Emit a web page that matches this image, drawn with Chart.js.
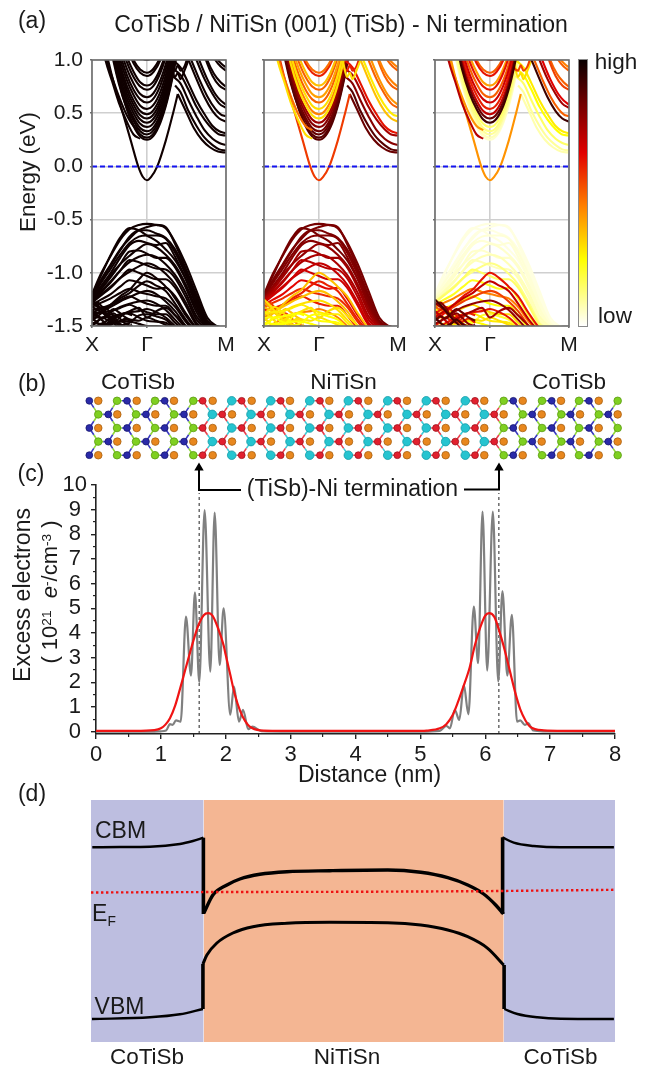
<!DOCTYPE html>
<html><head><meta charset="utf-8">
<script src="https://cdn.jsdelivr.net/npm/chart.js@4"></script>
<style>
html,body{margin:0;padding:0;background:#fff;width:651px;height:1070px;overflow:hidden;font-family:"Liberation Sans",Arial,sans-serif;color:#1a1a1a}
canvas{position:absolute}
.t{position:absolute;white-space:nowrap;line-height:1;transform:translate(-50%,-50%)}
.t sup{font-size:62%;vertical-align:baseline;position:relative;top:-.42em}
.t sub{font-size:60%;vertical-align:baseline;position:relative;top:.35em}
</style></head><body>
<script>
/* ---------- (a) band structure ---------- */
const kTicks=[0,0.41,1], kLabels=['X','Γ','M'];
const eTicks=[-1.5,-1,-0.5,0,0.5,1];
const fermiK=[0,1], fermiE=[0,0];
const kBowl=[.12,.16,.2,.26,.31,.36,.41,.46,.51,.56,.6,.64];
const bowls=[
[1.30,1.03,.80,.54,.38,.28,.25,.29,.41,.61,.83,1.10],
[1.25,.99,.78,.54,.39,.30,.27,.31,.43,.63,.85,1.12],
[1.30,1.03,.81,.57,.43,.33,.30,.34,.46,.66,.88,1.15],
[1.35,1.08,.85,.60,.46,.36,.33,.37,.49,.69,.91,1.18],
[1.38,1.12,.88,.64,.50,.40,.37,.41,.53,.73,.95,1.22],
[1.42,1.15,.92,.68,.54,.44,.41,.45,.57,.77,.99,1.26],
[1.45,1.20,.96,.72,.58,.48,.45,.49,.61,.81,1.03,1.3],
[1.5,1.24,1.0,.76,.62,.52,.49,.53,.65,.85,1.07,1.34],
[1.55,1.28,1.05,.81,.67,.57,.54,.58,.70,.90,1.12,1.4],
[1.6,1.32,1.10,.86,.72,.63,.60,.64,.76,.95,1.18,1.45],
[1.65,1.38,1.15,.92,.78,.68,.65,.69,.81,1.0,1.2,1.5],
[1.7,1.42,1.2,.98,.84,.75,.72,.76,.88,1.07,1.3,1.55],
[1.75,1.5,1.25,1.03,.89,.79,.76,.8,.92,1.11,1.35,1.6],
[1.8,1.55,1.3,1.12,.97,.88,.85,.89,1.0,1.2,1.4,1.65],
[1.85,1.6,1.32,1.15,1.0,.91,.88,.92,1.03,1.22,1.45,1.7],
[1.9,1.65,1.4,1.27,1.12,1.03,1.0,1.04,1.15,1.3,1.5,1.75]];
const kLow=[.06,.12,.17,.23,.29,.345,.38,.41,.44,.487,.55,.605,.64];
const eLow=[1.35,1.0,.75,.5,.24,0,-.1,-.13,-.1,0,.24,.5,.68];
const kSide=[.04,.1,.15,.2,.26,.31,.36];
const sideBands=[[1.35,1.0,.8,.6,.42,.3,.26],[1.3,1.04,.84,.66,.48,.38,.34]];
const peakBands=[
{k:[.64,.7,.76,.82,.88,.94,1],e:[.68,.52,.36,.25,.18,.14,.13]},
{k:[.62,.66,.72,.78,.84,.9,.95,1],e:[.76,.70,.52,.38,.27,.2,.16,.15]},
{k:[.6,.66,.72,.78,.84,.9,.95,1],e:[.85,.78,.62,.47,.34,.26,.22,.2]},
{k:[.6,.66,.72,.78,.84,.9,.95,1],e:[.92,.86,.72,.56,.44,.35,.3,.29]},
{k:[.6,.66,.72,.78,.84,.9,.95,1],e:[1.,.93,.78,.62,.49,.38,.33,.31]},
{k:[.66,.72,.78,.84,.9,.95,1],e:[1.15,1.0,.82,.65,.52,.45,.42]},
{k:[.68,.74,.8,.86,.92,.96,1],e:[1.15,1,.82,.66,.54,.49,.47]},
{k:[.72,.78,.84,.9,.95,1],e:[1.2,1.0,.82,.68,.59,.55]},
{k:[.74,.8,.86,.92,.96,1],e:[1.2,1.0,.82,.68,.62,.58]},
{k:[.8,.85,.9,.95,1],e:[1.2,1.0,.85,.76,.72]},
{k:[.81,.86,.91,.96,1],e:[1.2,1.0,.87,.79,.75]},
{k:[.88,.92,.96,1],e:[1.1,1.0,.94,.9]},
{k:[.9,.94,.97,1],e:[1.1,1.0,.96,.93]}];
const wiggleK=[.56,.59,.62,.64,.66,.69,.72];
const wiggles=[[1.05,.93,.9,.95,.9,.94,1.05],[1.1,.98,.84,.88,.82,.9,1.0]];
const kVal=[0,.07,.14,.21,.28,.35,.41,.48,.55,.62,.7,.78,.86,.93,1];
const valence=[
[-1.20,-1.00,-.84,-.69,-.59,-.55,-.54,-.55,-.58,-.71,-.92,-1.17,-1.42,-1.50,-1.52],
[-1.21,-1.02,-.83,-.67,-.58,-.60,-.65,-.70,-.78,-.88,-1.06,-1.28,-1.46,-1.51,-1.53],
[-1.22,-1.06,-.92,-.78,-.68,-.60,-.57,-.55,-.57,-.73,-.96,-1.21,-1.45,-1.50,-1.52],
[-1.22,-1.07,-.93,-.79,-.66,-.60,-.60,-.63,-.67,-.78,-.99,-1.24,-1.46,-1.51,-1.53],
[-1.23,-1.09,-.96,-.83,-.72,-.66,-.65,-.65,-.68,-.81,-1.02,-1.27,-1.47,-1.52,-1.53],
[-1.24,-1.12,-1.00,-.86,-.74,-.70,-.72,-.74,-.72,-.85,-1.06,-1.31,-1.48,-1.52,-1.54],
[-1.24,-1.13,-1.02,-.92,-.84,-.77,-.73,-.76,-.83,-.93,-1.11,-1.34,-1.49,-1.53,-1.54],
[-1.25,-1.15,-1.04,-.92,-.80,-.79,-.82,-.86,-.86,-.95,-1.14,-1.37,-1.50,-1.53,-1.54],
[-1.25,-1.17,-1.08,-.98,-.90,-.85,-.83,-.85,-.92,-1.02,-1.19,-1.41,-1.51,-1.54,-1.55],
[-1.26,-1.18,-1.09,-.98,-.88,-.90,-.93,-.96,-.97,-1.05,-1.23,-1.44,-1.52,-1.54,-1.55],
[-1.27,-1.20,-1.13,-1.05,-.99,-.94,-.91,-.94,-1.01,-1.11,-1.28,-1.47,-1.53,-1.55,-1.56],
[-1.28,-1.21,-1.14,-1.05,-.97,-1.00,-1.03,-1.06,-1.06,-1.14,-1.31,-1.49,-1.54,-1.56],
[-1.45,-1.38,-1.30,-1.22,-1.16,-1.06,-1.00,-1.05,-1.13,-1.22,-1.38,-1.52,-1.6],
[-1.30,-1.25,-1.20,-1.13,-1.07,-1.09,-1.12,-1.15,-1.14,-1.24,-1.40,-1.53,-1.6],
[-1.42,-1.36,-1.30,-1.24,-1.19,-1.12,-1.08,-1.12,-1.17,-1.29,-1.44,-1.56],
[-1.32,-1.28,-1.24,-1.19,-1.15,-1.18,-1.20,-1.22,-1.24,-1.32,-1.46,-1.57],
[-1.40,-1.37,-1.32,-1.27,-1.23,-1.19,-1.17,-1.20,-1.27,-1.36,-1.50,-1.6],
[-1.35,-1.33,-1.30,-1.26,-1.22,-1.26,-1.29,-1.31,-1.31,-1.40,-1.52,-1.6],
[-1.48,-1.43,-1.37,-1.32,-1.29,-1.27,-1.26,-1.29,-1.35,-1.44,-1.55],
[-1.38,-1.37,-1.36,-1.33,-1.30,-1.34,-1.37,-1.39,-1.39,-1.47,-1.57],
[-1.52,-1.48,-1.43,-1.39,-1.37,-1.36,-1.34,-1.37,-1.42,-1.50,-1.6],
[-1.42,-1.42,-1.41,-1.39,-1.38,-1.42,-1.45,-1.46,-1.47,-1.53,-1.6],
[-1.28,-1.35,-1.42,-1.48,-1.53,-1.6],
[-1.6,-1.55,-1.49,-1.45,-1.44,-1.45,-1.42,-1.45,-1.49,-1.55,-1.62],
[-1.47,-1.48,-1.48,-1.46,-1.46,-1.48,-1.50,-1.50,-1.52,-1.58],
[-1.32,-1.37,-1.44,-1.50,-1.55],
[-1.36,-1.44,-1.52,-1.6],
[-1.6,-1.52,-1.45,-1.40,-1.36,-1.33,-1.42,-1.36,-1.33,-1.40,-1.50,-1.6],
[-1.6,-1.6,-1.53,-1.50,-1.47,-1.40,-1.39,-1.41,-1.44,-1.52,-1.6]];
const kTangle=[0,.04,.08,.12,.16,.2,.25,.3];
const tangle=[
[-1.25,-1.30,-1.36,-1.42,-1.47,-1.52,-1.58,-1.6],
[-1.30,-1.28,-1.33,-1.40,-1.38,-1.42,-1.48,-1.50],
[-1.38,-1.35,-1.32,-1.35,-1.40,-1.46,-1.43,-1.47],
[-1.45,-1.41,-1.43,-1.38,-1.34,-1.37,-1.42,-1.45],
[-1.50,-1.46,-1.42,-1.45,-1.47,-1.43,-1.38,-1.40],
[-1.42,-1.47,-1.50,-1.48,-1.44,-1.48,-1.52,-1.49]];
/* projected weight of each band in the three panels (0 low, 1 high) */
const weightBowl=[[.99],[.88,.88,.86,.84,.8,.76,.3,.45,.3,.5,.4,.5,.35,.6,.48,.45],[.05,.07,.1,.12,.15,.92,.85,.7,.6,.68,.5,.62,.4,.62,.5,.62]];
const weightLow=[.99,.56,.42];
const weightSide=[[.99],[.3,.48],[.72,.42]];
const weightPeak=[[.99],[.85,.88,.8,.75,.62,.35,.28,.5,.42,.5,.45,.5,.45],[.08,.1,.15,.25,.28,.92,.5,.75,.65,.55,.5,.5,.45]];
const weightWiggle=[[.99],[.6,.3],[.55,.3]];
const weightVal=[[.99],[.83,.83,.82,.82,.81,.8,.78,.76,.74,.72,.7,.68,.35,.64,.6,.58,.35,.6,.3,.28,.45,.25,.4,.3,.25,.35,.3,.3,.25],
[.03,.03,.03,.03,.04,.04,.05,.05,.07,.07,.12,.15,.62,.22,.7,.45,.55,.25,.78,.3,.62,.28,.78,.3,.25,.5,.7,.75,.2]];
const weightTangle=[[.99],[.3,.55,.3,.35,.25,.3],[.9,.8,.6,.85,.6,.9]];
/* colour bar: value, colour */
const hotStops=[[0,[255,255,255]],[.25,[255,255,0]],[.45,[255,128,0]],[.65,[225,0,0]],[.85,[105,0,0]],[1,[10,0,0]]];

/* ---------- (b) atom positions along the slab (nm) ---------- */
const rowsA=[0,2,4], rowsB=[1,3];
const coA=[-.103,.478,1.059,6.430,7.022,7.596];
const sbA=[.035,.627,1.202,1.798,2.399,2.989,3.595,4.196,4.792,5.388,5.983,6.575,7.165,7.746];
const tiA=[.324,.909,1.499,6.282,6.872,7.442,8.038];
const niA=[1.644,2.245,2.846,3.451,4.042,4.643,5.239,5.840];
const snA=[2.091,2.692,3.293,3.888,4.495,5.089,5.690];
const tiB=[.035,.616,1.202,6.575,7.169,7.746];
const coB=[.190,.770,1.356,6.723,7.314,7.894];
const sbB=[.328,.914,1.499,2.096,2.696,3.297,3.898,4.495,5.096,5.690,6.282,6.867,7.458,8.038];
const snB=[1.792,2.388,2.989,3.590,4.191,4.792,5.388,5.983];
const niB=[1.946,2.542,3.143,3.744,4.341,4.941,5.536,6.137];

/* ---------- (c) excess electrons ---------- */
const distTicks=[0,1,2,3,4,5,6,7,8], distMinor=[.5,1.5,2.5,3.5,4.5,5.5,6.5,7.5];
const excessTicks=[0,1,2,3,4,5,6,7,8,9,10], excessMinor=[.5,1.5,2.5,3.5,4.5,5.5,6.5,7.5,8.5,9.5];
const grayX=[0,.9,1,1.08,1.14,1.18,1.233,1.305,1.387,1.464,1.525,1.592,1.674,1.762,1.829,1.906,1.967,2.07,2.127,2.204,2.266,2.347,2.41,2.55,3,4,5,5.3,5.4,5.455,5.53,5.6,5.67,5.74,5.824,5.89,5.958,6.03,6.117,6.2,6.265,6.34,6.41,6.49,6.54,6.61,6.66,6.74,6.9,7.5,8];
const grayY=[0,0,.01,.04,.3,.27,.45,.4,4.66,2.27,5.65,2,8.98,2.43,8.88,2.7,5,.68,1.82,.4,.88,.1,.2,.02,0,0,0,.03,.23,.13,.88,.47,1.89,.7,5.07,2.77,8.92,2.47,8.92,2.03,5.7,2.27,4.73,.4,.45,.27,.34,.04,.01,0,0];
const redX=[0,.6,.9,1,1.07,1.14,1.22,1.294,1.37,1.449,1.52,1.58,1.66,1.73,1.8,1.88,1.967,2,2.07,2.14,2.22,2.3,2.37,2.53,2.8,4,5,5.1,5.3,5.4,5.5,5.58,5.66,5.76,5.84,5.92,6,6.06,6.14,6.225,6.3,6.38,6.46,6.54,6.62,6.69,6.9,7.2,8];
const redY=[.03,.03,.06,.13,.28,.54,1.05,1.72,2.45,3.2,3.85,4.32,4.72,4.8,4.68,4.2,3.5,3.1,2.3,1.5,.85,.42,.2,.05,.03,.03,.03,.04,.13,.3,.68,1.2,1.8,2.6,3.5,4.2,4.7,4.8,4.65,4,3.3,2.45,1.6,.9,.45,.2,.05,.03,.03];
const markX=[1.59,6.21], markTop=9.68, markBottom=-.1;

/* ---------- (d) band alignment ---------- */
const regionX=[0,1.737,6.364,8.08];
const cbmLeftX=[.02,.447,.909,1.371,1.572,1.733], cbmLeftE=[.447,.45,.453,.48,.51,.543];
const cbmMidX=[1.741,1.88,2.096,2.296,2.604,3.02,3.683,4.576,5.085,5.501,5.809,6.055,6.24,6.359];
const cbmMidE=[-.21,-.03,.07,.13,.177,.203,.213,.22,.197,.143,.07,-.02,-.13,-.22];
const cbmRightX=[6.344,6.518,6.826,7.242,8.063], cbmRightE=[.547,.493,.46,.447,.447];
const vbmLeftX=[.015,.909,1.371,1.726], vbmLeftE=[-1.27,-1.253,-1.223,-1.17];
const vbmMidX=[1.726,1.787,1.941,2.188,2.496,3.02,3.683,4.576,5.085,5.501,5.809,6.117,6.364];
const vbmMidE=[-.72,-.63,-.51,-.41,-.347,-.313,-.303,-.307,-.33,-.38,-.447,-.563,-.73];
const vbmRightX=[6.374,6.575,6.883,7.242,8.063], vbmRightE=[-1.17,-1.22,-1.253,-1.267,-1.27];
const stepsX=[[1.733,1.733],[1.726,1.726],[6.347,6.347],[6.37,6.37]];
const stepsE=[[.543,-.22],[-1.17,-.72],[.547,-.22],[-.73,-1.17]];
const fermiX=[0,2,4,6,8.08], fermiLevel=[-.005,0,.002,.008,.022];

/* ---------- helpers ---------- */
Chart.defaults.font.family='"Liberation Sans",Arial,sans-serif';
Chart.defaults.color='#1a1a1a';
Chart.defaults.animation=false;
Chart.defaults.responsive=false;
Chart.defaults.devicePixelRatio=1;
Chart.defaults.plugins.legend.display=false;
Chart.defaults.plugins.tooltip.enabled=false;
const pts=(xs,ys)=>ys.map((y,i)=>({x:xs[i],y}));
function hot(v){
  for(let i=1;i<hotStops.length;i++){
    if(v<=hotStops[i][0]){
      const a=hotStops[i-1],b=hotStops[i],t=(v-a[0])/(b[0]-a[0]);
      return 'rgb('+a[1].map((c,j)=>Math.round(c+(b[1][j]-c)*t)).join(',')+')';
    }
  }
  return 'rgb(10,0,0)';
}
/* a canvas with margins round a plot area given in page pixels; the axes fill the left and bottom margins */
function place(x,y,w,h,m){
  const c=document.createElement('canvas');
  c.width=w+m[0]+m[1]; c.height=h+m[2]+m[3];
  c.style.left=(x-m[0])+'px'; c.style.top=(y-m[2])+'px';
  document.body.appendChild(c);
  return {c,m,padding:{left:m[0],right:m[1],top:m[2],bottom:m[3]},axisPadding:{left:0,right:m[1],top:m[2],bottom:0},
    fitX:s=>{s.height=m[3]},fitY:s=>{s.width=m[0]},none:s=>{if(s.isHorizontal())s.height=0;else s.width=0}};
}
const frame={id:'frame',afterDatasetsDraw(ch){
  const a=ch.chartArea,x=ch.ctx; x.save(); x.strokeStyle='#6e6e6e'; x.lineWidth=1.6;
  x.strokeRect(a.left,a.top,a.right-a.left,a.bottom-a.top); x.restore();
}};
const text=(html,cx,cy,size,rot)=>{
  const d=document.createElement('div'); d.className='t'; d.innerHTML=html;
  d.style.left=cx+'px'; d.style.top=cy+'px'; d.style.fontSize=size+'px';
  if(rot) d.style.transform='translate(-50%,-50%) rotate('+rot+'deg)';
  document.body.appendChild(d);
};

/* ---------- (a) ---------- */
function bandChart(panel,x,w,showLabels){
  const sets=[];
  const add=(k,e,v)=>sets.push({data:pts(k,e),borderColor:hot(v),borderWidth:2.1,pointRadius:0,cubicInterpolationMode:'monotone',order:panel===1?1+v:2-v,clip:0});
  const wv=(arr,i)=>arr[panel].length>1?arr[panel][i]:arr[panel][0];
  sets.push({data:pts(fermiK,fermiE),borderColor:'#1414f0',borderWidth:2,borderDash:[5,3],pointRadius:0,order:0});
  bowls.forEach((e,i)=>add(kBowl,e,wv(weightBowl,i)));
  add(kLow,eLow,weightLow[panel]);
  sideBands.forEach((e,i)=>add(kSide,e,wv(weightSide,i)));
  peakBands.forEach((b,i)=>add(b.k,b.e,wv(weightPeak,i)));
  wiggles.forEach((e,i)=>add(wiggleK,e,wv(weightWiggle,i)));
  valence.forEach((e,i)=>add(kVal,e,wv(weightVal,i)));
  tangle.forEach((e,i)=>add(kTangle,e,wv(weightTangle,i)));
  const p=place(x,59.5,w,266.5,[70,30,30,34]);
  new Chart(p.c,{type:'line',data:{datasets:sets},plugins:[frame],options:{
    layout:{padding:p.axisPadding},
    scales:{
      x:{type:'linear',min:0,max:1,afterFit:p.fitX,afterBuildTicks:s=>{s.ticks=kTicks.map(value=>({value}))},
         grid:{color:'#cfcfcf',lineWidth:1.6,tickLength:2,tickColor:'#6e6e6e'},border:{display:false},
         ticks:{autoSkip:false,maxRotation:0,padding:5,font:{size:21},callback:(v,i)=>kLabels[i]}},
      y:{type:'linear',min:-1.5,max:1,afterFit:p.fitY,afterBuildTicks:s=>{s.ticks=eTicks.map(value=>({value}))},
         grid:{color:'#cfcfcf',lineWidth:1.6,tickLength:2,tickColor:'#6e6e6e'},border:{display:false},
         ticks:{autoSkip:false,padding:7,font:{size:21},callback:v=>showLabels?v.toFixed(1):''}}
    }}});
}
bandChart(0,92,134.5,true);
bandChart(1,263.5,134.5,false);
bandChart(2,435,134,false);

const bar=document.createElement('div');
bar.style.cssText='position:absolute;left:578px;top:59px;width:8px;height:266px;border:1px solid #8a8a8a;background:linear-gradient(to top,'+
  hotStops.map(s=>hot(s[0])+' '+(s[0]*100)+'%').join(',')+')';
document.body.appendChild(bar);

/* ---------- (b) ---------- */
const species=[
 {A:coA,B:coB,fill:'#2a2aa8',edge:'#16166e',r:3.4,bond:'#3a3ac0'},
 {A:tiA,B:tiB,fill:'#7fd020',edge:'#5a9a12',r:3.8,bond:'#8fd838'},
 {A:niA,B:niB,fill:'#e2202e',edge:'#a01420',r:3.4,bond:'#e8404c'},
 {A:snA,B:snB,fill:'#25c4d0',edge:'#149aa6',r:4.3,bond:'#40ccd8'},
 {A:sbA,B:sbB,fill:'#e8871e',edge:'#a8600f',r:3.8,bond:null}];
const flat=(A,B)=>[...rowsA.flatMap(y=>A.map(x=>({x,y}))),...rowsB.flatMap(y=>B.map(x=>({x,y})))];
const bondData=species.slice(0,4).map(()=>[]);
const metal=[0,2], partner=[1,3];
metal.forEach(mi=>{
  const mp=flat(species[mi].A,species[mi].B);
  partner.forEach(pi=>{
    flat(species[pi].A,species[pi].B).forEach(q=>{
      mp.forEach(m=>{
        if(Math.abs(m.y-q.y)<=1 && Math.abs(m.x-q.x)<.2){
          const mid={x:(m.x+q.x)/2,y:(m.y+q.y)/2};
          bondData[mi].push(m,mid,{x:m.x,y:null});
          bondData[pi].push(q,mid,{x:q.x,y:null});
        }
      });
    });
  });
});
const bPlot=place(80,393.9,550,68.2,[10,10,8,8]);
new Chart(bPlot.c,{type:'line',data:{datasets:[
  ...species.map(s=>({data:flat(s.A,s.B),showLine:false,pointRadius:s.r,pointBackgroundColor:s.fill,pointBorderColor:s.edge,pointBorderWidth:.8,order:0})),
  ...bondData.map((d,i)=>({data:d,borderColor:species[i].bond,borderWidth:1.6,pointRadius:0,spanGaps:false,order:1}))
]},options:{layout:{padding:bPlot.padding},scales:{
  x:{type:'linear',display:false,min:-.2465,max:8.228},
  y:{type:'linear',display:false,min:-.5,max:4.5}}}});

/* ---------- (c) ---------- */
const cPlot=place(96,485,519,249.2,[70,30,30,34]);
new Chart(cPlot.c,{type:'line',data:{datasets:[
  {data:pts(redX,redY),borderColor:'#f01414',borderWidth:2.2,pointRadius:0,cubicInterpolationMode:'monotone',order:0},
  {data:pts(grayX,grayY),borderColor:'#808080',borderWidth:2.2,pointRadius:0,cubicInterpolationMode:'monotone',order:1},
  ...markX.map(v=>({data:[{x:v,y:markBottom},{x:v,y:markTop}],borderColor:'#222',borderWidth:1,borderDash:[3,3],pointRadius:0,order:2}))
]},options:{layout:{padding:cPlot.axisPadding},scales:{
  x:{type:'linear',position:'bottom',weight:1,min:0,max:8,afterFit:cPlot.fitX,afterBuildTicks:s=>{s.ticks=distTicks.map(value=>({value}))},
     grid:{drawOnChartArea:false,tickLength:5,tickColor:'#222',lineWidth:1.4},border:{color:'#222',width:1.6},
     ticks:{autoSkip:false,maxRotation:0,padding:3,font:{size:22},callback:v=>String(v)}},
  xm:{type:'linear',position:'bottom',weight:0,min:0,max:8,afterFit:cPlot.none,afterBuildTicks:s=>{s.ticks=distMinor.map(value=>({value}))},
     grid:{drawOnChartArea:false,tickLength:3,tickColor:'#222',lineWidth:1.2},border:{display:false},ticks:{autoSkip:false,callback:()=>''}},
  y:{type:'linear',position:'left',weight:1,min:-.1,max:10,afterFit:cPlot.fitY,afterBuildTicks:s=>{s.ticks=excessTicks.map(value=>({value}))},
     grid:{drawOnChartArea:false,tickLength:5,tickColor:'#222',lineWidth:1.4},border:{color:'#222',width:1.6},
     ticks:{autoSkip:false,padding:4,crossAlign:'center',font:{size:22},callback:v=>String(v)}},
  ym:{type:'linear',position:'left',weight:0,min:-.1,max:10,afterFit:cPlot.none,afterBuildTicks:s=>{s.ticks=excessMinor.map(value=>({value}))},
     grid:{drawOnChartArea:false,tickLength:3,tickColor:'#222',lineWidth:1.2},border:{display:false},ticks:{autoSkip:false,callback:()=>''}}
}}});

/* ---------- (d) ---------- */
const dPlot=place(91,800,524.3,242,[4,4,4,4]);
const regionColors=['#bdbee0','#f4b693','#bdbee0'];
const dBlack=(x,e,w)=>({data:pts(x,e),borderColor:'#000',borderWidth:w,pointRadius:0,cubicInterpolationMode:'monotone',order:1});
new Chart(dPlot.c,{type:'line',data:{datasets:[
  {data:pts(fermiX,fermiLevel),borderColor:'#ee1111',borderWidth:2.4,borderDash:[2.4,2.6],pointRadius:0,order:0},
  dBlack(cbmLeftX,cbmLeftE,2.4),dBlack(cbmMidX,cbmMidE,3.4),dBlack(cbmRightX,cbmRightE,2.4),
  dBlack(vbmLeftX,vbmLeftE,2.4),dBlack(vbmMidX,vbmMidE,3),dBlack(vbmRightX,vbmRightE,2.4),
  ...stepsX.map((x,i)=>dBlack(x,stepsE[i],3.6)),
  ...regionColors.map((col,i)=>({data:[{x:regionX[i],y:.92},{x:regionX[i+1],y:.92}],borderWidth:0,pointRadius:0,fill:'start',backgroundColor:col,order:5}))
]},options:{layout:{padding:dPlot.padding},scales:{
  x:{type:'linear',display:false,min:0,max:8.08},
  y:{type:'linear',display:false,min:-1.5,max:.92}}}});

/* ---------- text ---------- */
text('(a)',32,19.5,23);
text('CoTiSb / NiTiSn (001) (TiSb) - Ni termination',341,24,23);
text('Energy (eV)',28,172,22.5,-90);
text('high',616,62,22.5);
text('low',615,316,22.5);
text('(b)',32,383,23);
text('CoTiSb',138,381.5,22.5);
text('NiTiSn',343.5,381.5,22.5);
text('CoTiSb',569,381.5,22.5);
text('(c)',31,473,23);
text('(TiSb)-Ni termination',352.5,488,23);
text('Excess electrons',21.7,595,23,-90);
text('( 10<sup>21</sup> &nbsp;<i>e</i><sup>-</sup>/cm<sup>-3</sup> )',50,592,22,-90);
text('Distance (nm)',369.5,774,23);
text('(d)',32,793,23);
text('CBM',120.5,830,23);
text('VBM',119.5,1006,23);
text('E<sub>F</sub>',104,913,23);
text('CoTiSb',147,1057,22.5);
text('NiTiSn',347,1057,22.5);
text('CoTiSb',560.5,1057,22.5);

/* ---------- termination arrows ---------- */
document.body.insertAdjacentHTML('beforeend',
 '<svg width="651" height="1070" style="position:absolute;left:0;top:0;pointer-events:none">'+
 '<path d="M199 468V490H241" fill="none" stroke="#000" stroke-width="2"/>'+
 '<path d="M499 468V489.5H464" fill="none" stroke="#000" stroke-width="2"/>'+
 '<path d="M199 462.5l-4.7 8h9.4zM499 462.5l-4.7 8h9.4z" fill="#000"/></svg>');
</script>
</body></html>
